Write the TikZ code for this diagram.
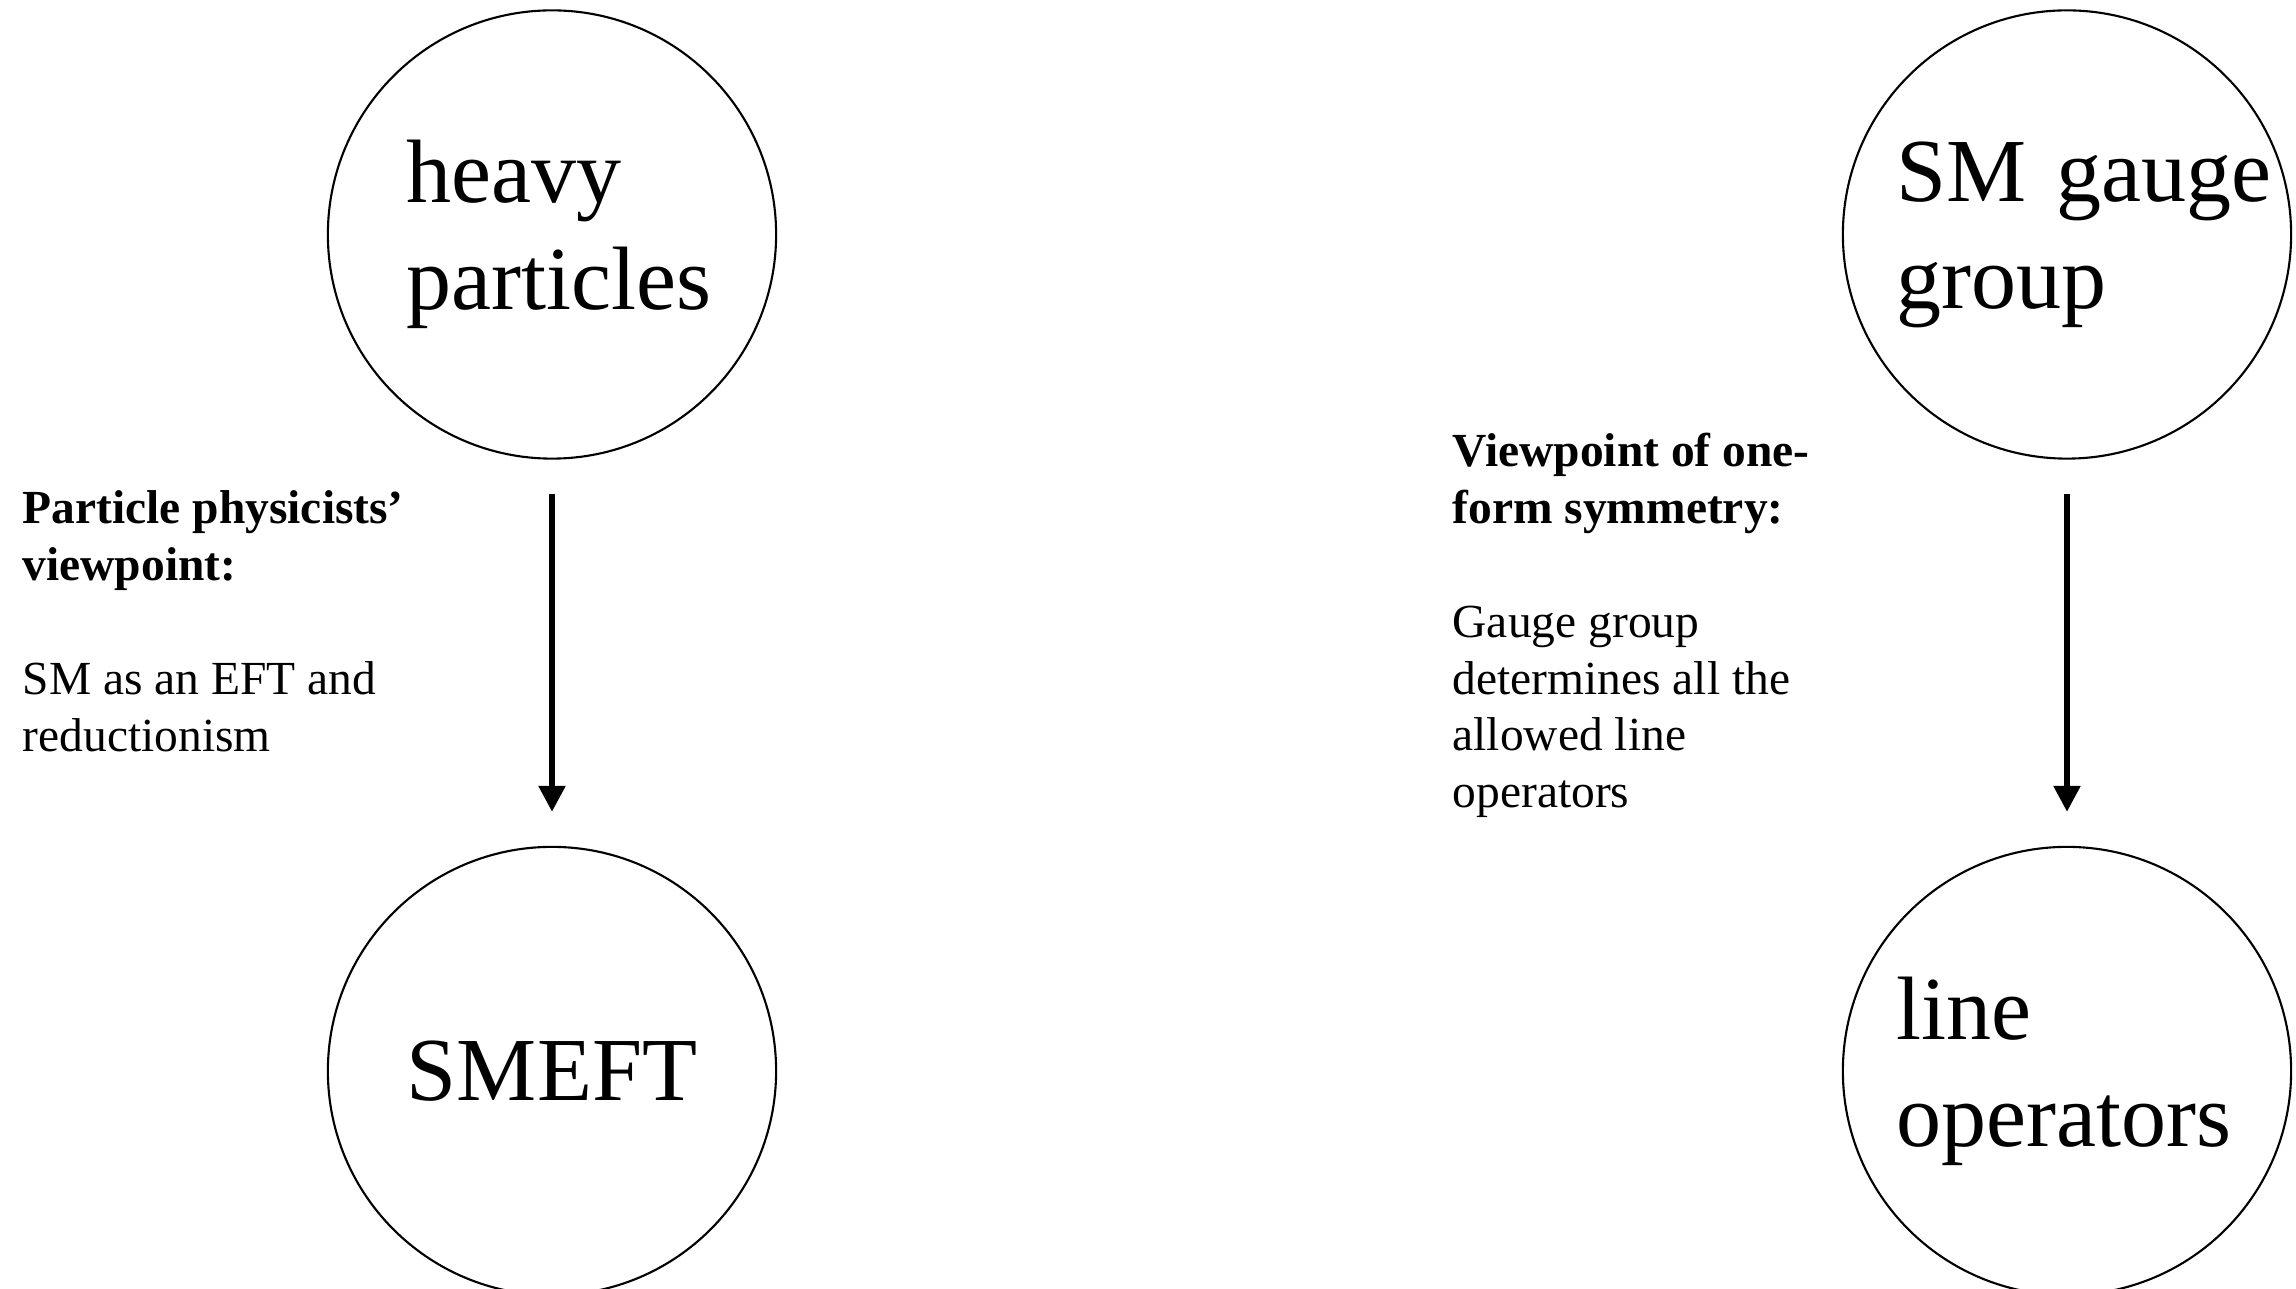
\documentclass[tikz,border=0pt]{standalone}
\usepackage{fontspec}
\setmainfont{Liberation Serif}
\usetikzlibrary{arrows.meta}

\begin{document}
\begin{tikzpicture}[x=0.01cm,y=-0.01cm,
	bubble/.style={draw,circle,line width=0.6pt,minimum size=4.48cm,inner sep=0pt,align=left,font=\fontsize{25.6}{30.4}\selectfont},
	note/.style={anchor=north west,inner sep=0pt,align=left,font=\fontsize{13.5}{16.2}\selectfont},
	flow/.style={-{Triangle[length=7.4pt,width=7.4pt]},line width=1.6pt,shorten <=0.34cm,shorten >=0.34cm}]
	\useasboundingbox (0,0) rectangle (2296,1289);
	\node[bubble,text width=2.9cm] (heavy) at (552,234.5){heavy\\particles};
	\node[bubble,align=center] (smeft) at (552,1071){SMEFT};
	\node[bubble,text width=3.4cm] (gauge) at (2067,234.5){\mbox{SM gauge}\\group};
	\node[bubble,text width=3.4cm] (lines) at (2067,1071){line\\operators};
	
	\draw[flow] (heavy)--(smeft);
	\draw[flow] (gauge)--(lines);
	
	\node[note] (pp) at (22,490){\textbf{Particle physicists'}\\\textbf{viewpoint:}\\[16.2pt]SM as an EFT and\\reductionism};
	\node[note] (of) at (1452,432){\textbf{Viewpoint of one-}\\\textbf{form symmetry:}\\[16.2pt]Gauge group\\determines all the\\allowed line\\operators};
\end{tikzpicture}
\end{document}
